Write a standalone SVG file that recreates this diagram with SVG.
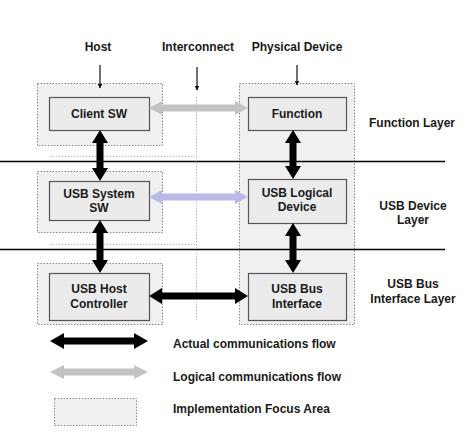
<svg xmlns="http://www.w3.org/2000/svg" width="471" height="432" viewBox="0 0 471 432">
<defs>
<marker id="ah" viewBox="0 0 10 10" refX="9" refY="5" markerWidth="5" markerHeight="5" orient="auto" markerUnits="userSpaceOnUse">
<path d="M0,0 L10,5 L0,10 Z" fill="#111"/>
</marker>
<style>
text{font-family:"Liberation Sans",Arial,sans-serif;font-weight:bold;font-size:12px;fill:#1a1a1a;text-anchor:middle}
.lt{text-anchor:start}
.focus{fill:#f0f0f0;stroke:#8a8a8a;stroke-width:1;stroke-dasharray:1.5 1.5}
.box{fill:#ebebeb;stroke:#555;stroke-width:1.2}
.actual{fill:#000}
.logical{fill:#c3c3c3}
.lav{fill:#babae6}
.thin{stroke:#111;stroke-width:1.2;fill:none;marker-end:url(#ah)}
.layer{stroke:#000;stroke-width:1.3}
.faint{stroke:#bbb;stroke-width:1;stroke-dasharray:1.5 1.5}
</style>
</defs>
<rect width="471" height="432" fill="#fff"/>

<!-- focus areas -->
<g id="focus-areas">
<rect class="focus" x="37.5" y="83.5" width="125" height="62"/>
<rect class="focus" x="37.5" y="171.5" width="125" height="61"/>
<rect class="focus" x="37.5" y="263.5" width="125" height="61"/>
<rect class="focus" x="239.5" y="83.5" width="115" height="241"/>
</g>

<!-- layer separators -->
<g id="layers">
<line class="layer" x1="0" y1="161.5" x2="445" y2="161.5"/>
<line class="layer" x1="0" y1="249.5" x2="445" y2="249.5"/>
<line class="faint" x1="50" y1="156.5" x2="195" y2="156.5"/>
<line class="faint" x1="50" y1="244.5" x2="195" y2="244.5"/>
<line class="faint" x1="196.5" y1="97" x2="196.5" y2="320"/>
</g>

<g id="headers">
<text x="98" y="51">Host</text>
<text x="198" y="51">Interconnect</text>
<text x="297" y="51">Physical Device</text>
</g>

<g id="layer-labels">
<text x="412" y="127">Function Layer</text>
<text x="413" y="210">USB Device</text>
<text x="413" y="224">Layer</text>
<text x="413" y="288">USB Bus</text>
<text x="413" y="303">Interface Layer</text>
</g>

<g id="client-sw"><rect class="box" x="49.5" y="97.5" width="100" height="33"/><text x="99" y="118">Client SW</text></g>
<g id="function"><rect class="box" x="248.5" y="97.5" width="98" height="33"/><text x="297" y="118">Function</text></g>
<g id="usb-system-sw"><rect class="box" x="49.5" y="181.5" width="100" height="39"/><text x="99" y="198">USB System</text><text x="99" y="212">SW</text></g>
<g id="usb-logical-device"><rect class="box" x="248.5" y="179.5" width="98" height="44"/><text x="297" y="197">USB Logical</text><text x="297" y="211">Device</text></g>
<g id="usb-host-controller"><rect class="box" x="49.5" y="273.5" width="100" height="47"/><text x="99" y="293">USB Host</text><text x="99" y="308">Controller</text></g>
<g id="usb-bus-interface"><rect class="box" x="248.5" y="273.5" width="98" height="47"/><text x="297" y="293">USB Bus</text><text x="297" y="308">Interface</text></g>

<g id="connectors">
<line class="thin" x1="100" y1="65" x2="100" y2="88"/>
<line class="thin" x1="197" y1="67" x2="197" y2="90"/>
<line class="thin" x1="297" y1="65" x2="297" y2="85"/>
<polygon class="logical" points="149,108 162,101 162,104.5 235,104.5 235,101 248,108 235,115 235,111.5 162,111.5 162,115"/>
<polygon class="lav" points="149,197 162,190 162,193.5 235,193.5 235,190 248,197 235,204 235,200.5 162,200.5 162,204"/>
<polygon class="actual" points="100,130 108,143 103.5,143 103.5,168 108,168 100,181 92,168 96.5,168 96.5,143 92,143"/>
<polygon class="actual" points="100,220 108,233 103.5,233 103.5,260 108,260 100,273 92,260 96.5,260 96.5,233 92,233"/>
<polygon class="actual" points="293,130 301,143 296.5,143 296.5,166 301,166 293,179 285,166 289.5,166 289.5,143 285,143"/>
<polygon class="actual" points="293,223 301,236 296.5,236 296.5,260 301,260 293,273 285,260 289.5,260 289.5,236 285,236"/>
<polygon class="actual" points="149,296 162,288 162,292.5 235,292.5 235,288 248,296 235,304 235,299.5 162,299.5 162,304"/>
</g>

<g id="legend">
<polygon class="actual" points="50,341 64,333 64,337.5 134,337.5 134,333 148,341 134,349 134,344.5 64,344.5 64,349"/>
<text class="lt" x="173" y="348">Actual communications flow</text>
<polygon class="logical" points="50,372 64,365 64,368.5 134,368.5 134,365 148,372 134,379 134,375.5 64,375.5 64,379"/>
<text class="lt" x="173" y="381">Logical communications flow</text>
<rect class="focus" x="54.5" y="398.5" width="82" height="27"/>
<text class="lt" x="173" y="413">Implementation Focus Area</text>
</g>
</svg>
